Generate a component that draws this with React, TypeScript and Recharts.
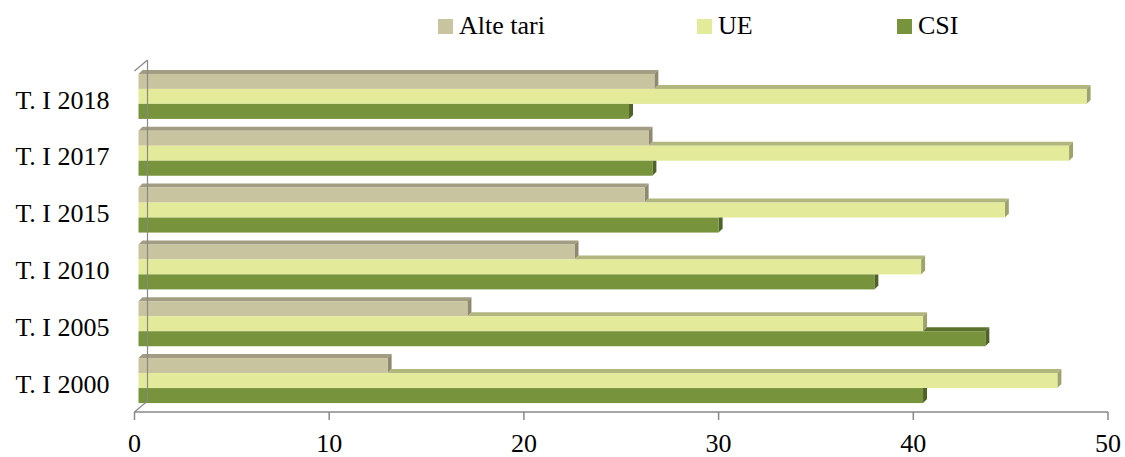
import React from 'react';
import { BarChart, Bar, XAxis, YAxis, Legend, ReferenceLine } from 'recharts';

const categories = ['T. I 2018', 'T. I 2017', 'T. I 2015', 'T. I 2010', 'T. I 2005', 'T. I 2000'];
const alteTari = [26.7, 26.4, 26.2, 22.6, 17.1, 13.0];
const ue = [48.9, 48.0, 44.7, 40.4, 40.5, 47.4];
const csi = [25.4, 26.6, 30.0, 38.0, 43.7, 40.5];
const xTicks = [0, 10, 20, 30, 40, 50];
const bandTicks = [0, 1, 2, 3, 4, 5, 6];

const data = categories.map((name, i) => ({ name, alte: alteTari[i], ue: ue[i], csi: csi[i] }));

const FONT = '"Liberation Serif", "Times New Roman", serif';
const AXIS = '#888888';
const DEPTH = 4;

const SERIES = [
  { key: 'alte', name: 'Alte tari', front: '#c9c4a0', top: '#a19c82', side: '#8e896f', prev: null },
  { key: 'ue', name: 'UE', front: '#e3ea99', top: '#b1b67e', side: '#9ea26c', prev: 'alte' },
  { key: 'csi', name: 'CSI', front: '#77933c', top: '#5b732c', side: '#4f6228', prev: 'ue' },
];

// fake 3D bar: front face + top face + right side face
const Bar3D = (props: any) => {
  const { x, y, width, height, payload, dataKey, front, top, side, prev } = props;
  if (width == null || width <= 0) return null;
  const v = payload[dataKey];
  const pxPer = width / v;
  const fy = y - 2.5;
  const fx = x + 4;
  const right = x + width;
  const d = DEPTH;
  const prevRight = prev ? x + payload[prev] * pxPer : fx;
  const topStart = Math.max(fx, prevRight);
  const covered = prev && prevRight > right;
  return (
    <g>
      {topStart < right && (
        <polygon
          points={`${topStart},${fy} ${right},${fy} ${right + d},${fy - d} ${topStart + d},${fy - d}`}
          fill={top}
        />
      )}
      <polygon
        points={
          covered
            ? `${right},${fy} ${right + d},${fy} ${right + d},${fy + height - d} ${right},${fy + height}`
            : `${right},${fy} ${right + d},${fy - d} ${right + d},${fy + height - d} ${right},${fy + height}`
        }
        fill={side}
      />
      <rect x={fx} y={fy} width={right - fx} height={height} fill={front} />
    </g>
  );
};

const Walls = (props: any) => {
  const { x1, y1, y2 } = props;
  if (x1 == null) return null;
  const dx = 13;
  const dy = 11;
  return (
    <g stroke={AXIS} strokeWidth={1.2} fill="none">
      <line x1={x1} y1={y1} x2={x1 + dx} y2={y1 - dy} />
      <line x1={x1 + dx} y1={y1 - dy} x2={x1 + dx} y2={y2 - dy} />
      <line x1={x1} y1={y2} x2={x1 + dx} y2={y2 - dy} />
    </g>
  );
};

const LegendBox = () => (
  <div style={{ display: 'flex', fontFamily: FONT, fontSize: 26, color: '#000', lineHeight: '30px' }}>
    {SERIES.map((s, i) => (
      <div key={s.key} style={{ display: 'flex', alignItems: 'center', width: i === 0 ? 259 : i === 1 ? 200 : 120 }}>
        <span style={{ display: 'inline-block', width: 15, height: 15, background: s.front, marginRight: 6 }} />
        <span>{s.name}</span>
      </div>
    ))}
  </div>
);

export default function App() {
  return (
    <div style={{ position: 'absolute', left: 0, top: 0, background: '#fff' }}>
      <BarChart
        width={1125}
        height={457}
        data={data}
        layout="vertical"
        margin={{ top: 71, right: 17, bottom: 0, left: 0 }}
        barCategoryGap={5.4}
        barGap={0}
      >
        <XAxis
          type="number"
          domain={[0, 50]}
          ticks={xTicks}
          interval={0}
          height={45}
          axisLine={{ stroke: AXIS, strokeWidth: 1.5 }}
          tickLine={{ stroke: AXIS, strokeWidth: 1.5 }}
          tickSize={8}
          tickMargin={14}
          tick={{ fill: '#000', fontSize: 26, fontFamily: FONT }}
        />
        <YAxis
          type="category"
          dataKey="name"
          width={134.5}
          axisLine={false}
          tickLine={false}
          tickSize={0}
          tickMargin={25}
          tick={{ fill: '#000', fontSize: 26, fontFamily: FONT }}
        />
        <YAxis
          yAxisId="band"
          type="number"
          domain={[0, 6]}
          ticks={bandTicks}
          allowDataOverflow
          width={0}
          tick={false}
          tickSize={7}
          axisLine={{ stroke: AXIS, strokeWidth: 1.5 }}
          tickLine={{ stroke: AXIS, strokeWidth: 1.5 }}
        />
        <Legend
          layout="horizontal"
          verticalAlign="middle"
          align="center"
          content={<LegendBox />}
          wrapperStyle={{ top: 11, left: 438, width: 600 }}
        />
        <ReferenceLine x={0} stroke={AXIS} shape={<Walls />} />
        {SERIES.map((s) => (
          <Bar
            key={s.key}
            dataKey={s.key}
            name={s.name}
            fill={s.front}
            isAnimationActive={false}
            shape={(p: any) => <Bar3D {...p} front={s.front} top={s.top} side={s.side} prev={s.prev} />}
          />
        ))}
      </BarChart>
    </div>
  );
}
